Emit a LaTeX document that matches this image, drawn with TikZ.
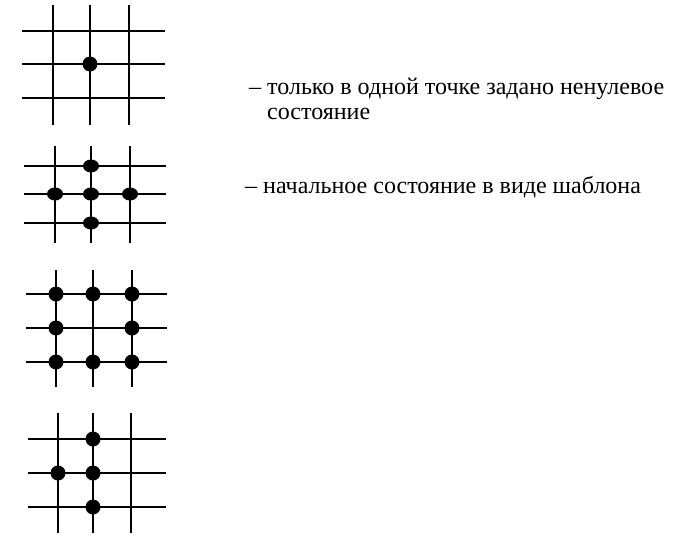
\documentclass[tikz,border=0pt]{standalone}
\usepackage{fontspec}
\setmainfont{Liberation Serif}
\usepackage{tikz}

\begin{document}
\begin{tikzpicture}[
    x=1pt, y=-1pt,
    wire/.style  = {draw=black, line width=1.8pt},
    site/.style  = {fill=black},
    note/.style  = {anchor=base west, inner sep=0pt, font=\fontsize{24}{28}\selectfont},
  ]
  \useasboundingbox (0,0) rectangle (685,536);

  % one live site
  \foreach \x in {53,90,129}
    \draw[wire] (\x,5) -- (\x,125);
  \foreach \y in {31,64,98}
    \draw[wire] (22,\y) -- (165,\y);
  \fill[site] (90,64) ellipse [x radius=7.5pt, y radius=7.5pt];

  % cross template
  \foreach \x in {55,91,130}
    \draw[wire] (\x,146) -- (\x,243);
  \foreach \y in {166,194,223}
    \draw[wire] (24,\y) -- (166,\y);
  \foreach \x/\y in {91/166, 55/194, 91/194, 130/194, 91/223}
    \fill[site] (\x,\y) ellipse [x radius=8pt, y radius=6.5pt];

  % ring of eight
  \foreach \x in {56,93,132}
    \draw[wire] (\x,270) -- (\x,387);
  \foreach \y in {294,328,362}
    \draw[wire] (26,\y) -- (167,\y);
  \foreach \x/\y in {56/294, 93/294, 132/294, 56/328, 132/328, 56/362, 93/362, 132/362}
    \fill[site] (\x,\y) ellipse [x radius=7.5pt, y radius=7.5pt];

  % skewed cross
  \foreach \x in {58,93,131}
    \draw[wire] (\x,413) -- (\x,533);
  \foreach \y in {439,473,507}
    \draw[wire] (28,\y) -- (166,\y);
  \foreach \x/\y in {93/439, 58/473, 93/473, 93/507}
    \fill[site] (\x,\y) ellipse [x radius=7.5pt, y radius=7.5pt];

  % captions
  \node[note] (single) at (249,94) {– только в одной точке задано ненулевое};
  \node[note] (single2) at (267,119) {состояние};
  \node[note] (cross) at (245,193) {– начальное состояние в виде шаблона};
\end{tikzpicture}
\end{document}
